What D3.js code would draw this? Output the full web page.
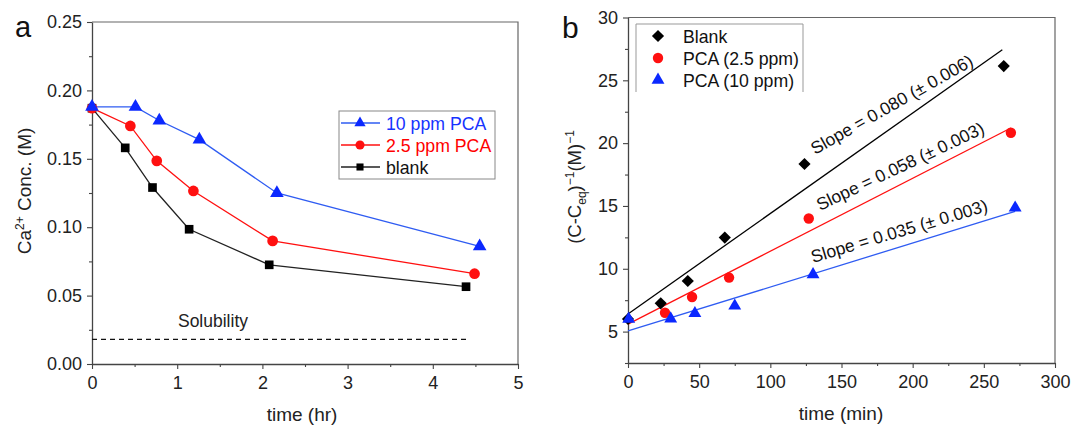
<!DOCTYPE html>
<html>
<head>
<meta charset="utf-8">
<script src="https://cdn.jsdelivr.net/npm/d3@7"></script>
<style>
  html, body { margin: 0; padding: 0; background: #fff; }
  svg { display: block; font-family: "Liberation Sans", Arial, sans-serif; }
</style>
</head>
<body>
<svg id="chart" width="1071" height="425"></svg>
<script>
// ---- Panel a: Ca2+ concentration vs time (hr) ----
const timeHr10 = [0, 0.51, 0.79, 1.26, 2.17, 4.55];
const conc10 = [0.188, 0.188, 0.178, 0.164, 0.125, 0.086];
const timeHr25 = [0, 0.45, 0.76, 1.19, 2.12, 4.49];
const conc25 = [0.187, 0.174, 0.1485, 0.1265, 0.090, 0.066];
const timeHrBlank = [0, 0.39, 0.71, 1.14, 2.08, 4.39];
const concBlank = [0.187, 0.158, 0.129, 0.0985, 0.0725, 0.0565];
const solubility = 0.018;
const solubilityEnd = 4.41;
const xTicksA = [0, 1, 2, 3, 4, 5];
const yTicksA = [0, 0.05, 0.10, 0.15, 0.20, 0.25];
const legendA = ["10 ppm PCA", "2.5 ppm PCA", "blank"];

// ---- Panel b: (C - Ceq)^-1 vs time (min) ----
const timeMinBlank = [0, 23, 42, 68, 124, 264];
const invBlank = [6.0, 7.25, 9.03, 12.48, 18.34, 26.13];
const timeMin25 = [26, 45, 71, 127, 269];
const inv25 = [6.5, 7.75, 9.3, 14.0, 20.83];
const timeMin10 = [0.5, 30, 47, 75, 130, 272];
const inv10 = [6.0, 6.02, 6.45, 7.05, 9.55, 14.85];
const fitSlopes = [0.080, 0.058, 0.035];
const fitErrors = ["0.006", "0.003", "0.003"];
const fitIntercepts = [6.4, 5.6, 5.05];
const fitEnds = [263, 269, 272];
const xTicksB = [0, 50, 100, 150, 200, 250, 300];
const yTicksB = [5, 10, 15, 20, 25, 30];
const legendB = ["Blank", "PCA (2.5 ppm)", "PCA (10 ppm)"];

const BLUE = "#0b28ff", BLUE_LINE = "#2f5cf2", RED = "#ff1010", BLACK = "#000";
const AXIS = "#444";

const svg = d3.select("#chart");

function zipXY(xs, ys) { return xs.map((x, i) => [x, ys[i]]); }

function minorValues(step, lo, hi, majors) {
  const out = [];
  for (let v = lo; v <= hi + 1e-9; v += step) {
    if (!majors.some(m => Math.abs(m - v) < step * 1e-3)) out.push(+v.toFixed(6));
  }
  return out;
}

function drawFrame(g, x, y, xTicks, yTicks, xMinor, yMinor, yFmt) {
  const [x0, x1] = x.range();
  const [y0, y1] = y.range();
  // top and right frame
  g.append("path")
    .attr("d", `M${x0},${y1}H${x1}V${y0}`)
    .attr("fill", "none").attr("stroke", "#666").attr("stroke-width", 1.2);

  g.append("g").attr("transform", `translate(0,${y0})`)
    .call(d3.axisBottom(x).tickValues(xTicks).tickSize(5).tickSizeOuter(0).tickPadding(7).tickFormat(d3.format("d")));
  g.append("g").attr("transform", `translate(0,${y0})`)
    .call(d3.axisBottom(x).tickValues(xMinor).tickSize(3).tickSizeOuter(0).tickFormat(""))
    .call(s => s.select(".domain").remove());
  g.append("g").attr("transform", `translate(${x0},0)`)
    .call(d3.axisLeft(y).tickValues(yTicks).tickSize(5).tickSizeOuter(0).tickPadding(5).tickFormat(yFmt));
  g.append("g").attr("transform", `translate(${x0},0)`)
    .call(d3.axisLeft(y).tickValues(yMinor).tickSize(3).tickSizeOuter(0).tickFormat(""))
    .call(s => s.select(".domain").remove());

  g.selectAll(".domain").attr("stroke", AXIS).attr("stroke-width", 1.3);
  g.selectAll(".tick line").attr("stroke", AXIS).attr("stroke-width", 1.1);
  g.selectAll(".tick text").attr("fill", "#222").style("font-size", "18px")
    .style("font-family", '"Liberation Sans", Arial, sans-serif');
}

const sym = (type, size) => d3.symbol().type(type).size(size)();

// ================= Panel a =================
const ga = svg.append("g");
const xA = d3.scaleLinear().domain([0, 5]).range([92, 518]);
const yA = d3.scaleLinear().domain([0, 0.25]).range([364, 22]);
drawFrame(ga, xA, yA, xTicksA, yTicksA,
  minorValues(0.5, 0, 5, xTicksA), minorValues(0.025, 0, 0.25, yTicksA), d3.format(".2f"));

// solubility line
ga.append("line")
  .attr("x1", xA(0)).attr("x2", xA(solubilityEnd))
  .attr("y1", yA(solubility)).attr("y2", yA(solubility))
  .attr("stroke", "#111").attr("stroke-width", 1.3).attr("stroke-dasharray", "5,4");
ga.append("text").attr("x", xA(1.42)).attr("y", yA(solubility) - 12)
  .attr("text-anchor", "middle").style("font-size", "17.5px").attr("fill", "#222").text("Solubility");

const lineA = d3.line().x(d => xA(d[0])).y(d => yA(d[1]));
const seriesA = [
  { pts: zipXY(timeHrBlank, concBlank), line: "#222", fill: BLACK, shape: d3.symbolSquare, size: 75 },
  { pts: zipXY(timeHr25, conc25), line: RED, fill: RED, shape: d3.symbolCircle, size: 90 },
  { pts: zipXY(timeHr10, conc10), line: BLUE_LINE, fill: BLUE, shape: d3.symbolTriangle, size: 80 }
];
seriesA.forEach(s => {
  ga.append("path").attr("d", lineA(s.pts)).attr("fill", "none")
    .attr("stroke", s.line).attr("stroke-width", 1.3);
});
seriesA.forEach(s => {
  ga.append("g").selectAll("path").data(s.pts).join("path")
    .attr("transform", d => `translate(${xA(d[0])},${yA(d[1])})`)
    .attr("d", sym(s.shape, s.size)).attr("fill", s.fill);
});

// legend a
const legA = ga.append("g");
legA.append("rect").attr("x", 339).attr("y", 111).attr("width", 156).attr("height", 68)
  .attr("fill", "#fff").attr("stroke", "#888").attr("stroke-width", 1);
const legItemsA = [
  { label: legendA[0], line: BLUE_LINE, fill: BLUE, text: "#1633ff", shape: d3.symbolTriangle, size: 55 },
  { label: legendA[1], line: RED, fill: RED, text: "#ff0000", shape: d3.symbolCircle, size: 65 },
  { label: legendA[2], line: "#222", fill: BLACK, text: "#111", shape: d3.symbolSquare, size: 50 }
];
legItemsA.forEach((it, i) => {
  const cy = 123 + i * 22;
  legA.append("line").attr("x1", 341).attr("x2", 380).attr("y1", cy).attr("y2", cy)
    .attr("stroke", it.line).attr("stroke-width", 1.3);
  legA.append("path").attr("transform", `translate(360,${cy})`).attr("d", sym(it.shape, it.size)).attr("fill", it.fill);
  legA.append("text").attr("x", 386).attr("y", cy + 6.5).style("font-size", "17.7px").attr("fill", it.text).text(it.label);
});

// axis titles a
ga.append("text").attr("x", 302).attr("y", 421).attr("text-anchor", "middle")
  .style("font-size", "19px").attr("fill", "#222").text("time (hr)");
const ytA = ga.append("text").attr("transform", "translate(31,191) rotate(-90)")
  .attr("text-anchor", "middle").style("font-size", "19px").attr("fill", "#222");
ytA.append("tspan").text("Ca");
ytA.append("tspan").attr("dy", -7).style("font-size", "12px").text("2+");
ytA.append("tspan").attr("dy", 7).text(" Conc. (M)");

ga.append("text").attr("x", 15).attr("y", 37).style("font-size", "29px").attr("fill", "#111").text("a");

// ================= Panel b =================
const gb = svg.append("g");
const xB = d3.scaleLinear().domain([0, 300]).range([628, 1055]);
const yB = d3.scaleLinear().domain([2.5, 30]).range([363, 17.5]);
drawFrame(gb, xB, yB, xTicksB, yTicksB,
  minorValues(25, 0, 300, xTicksB), minorValues(2.5, 2.5, 30, yTicksB), d3.format("d"));

const fitColors = [BLACK, RED, BLUE_LINE];
fitSlopes.forEach((m, i) => {
  const b = fitIntercepts[i];
  gb.append("line")
    .attr("x1", xB(0)).attr("y1", yB(b))
    .attr("x2", xB(fitEnds[i])).attr("y2", yB(b + m * fitEnds[i]))
    .attr("stroke", fitColors[i]).attr("stroke-width", 1.3);
});

// slope labels
const slopeLabelPos = [[815, 155, -29.5], [820, 211, -25.3], [813, 263, -16.5]];
fitSlopes.forEach((m, i) => {
  const [lx, ly, ang] = slopeLabelPos[i];
  gb.append("text").attr("transform", `translate(${lx},${ly}) rotate(${ang})`)
    .style("font-size", "17.5px").attr("fill", "#111")
    .text(`Slope = ${m.toFixed(3)} (\u00B1 ${fitErrors[i]})`);
});

const seriesB = [
  { pts: zipXY(timeMinBlank, invBlank), fill: BLACK, shape: "diamond", size: 74 },
  { pts: zipXY(timeMin25, inv25), fill: RED, shape: d3.symbolCircle, size: 85 },
  { pts: zipXY(timeMin10, inv10), fill: BLUE, shape: d3.symbolTriangle, size: 72 }
];
function markerB(sel, s, scale) {
  const type = s.shape === "diamond" ? d3.symbolSquare : s.shape;
  sel.attr("d", sym(type, s.size * scale)).attr("fill", s.fill);
}
seriesB.forEach(s => {
  const sel = gb.append("g").selectAll("path").data(s.pts).join("path")
    .attr("transform", d => `translate(${xB(d[0])},${yB(d[1])})` + (s.shape === "diamond" ? " rotate(45)" : ""));
  markerB(sel, s, 1);
});

// legend b (open at the bottom)
gb.append("path").attr("d", "M636,92V24H803V92").attr("fill", "none")
  .attr("stroke", "#999").attr("stroke-width", 1);
seriesB.forEach((s, i) => {
  const cy = 36 + i * 22;
  const p = gb.append("path")
    .attr("transform", `translate(658,${cy})` + (s.shape === "diamond" ? " rotate(45)" : ""));
  markerB(p, s, 1);
  gb.append("text").attr("x", 683).attr("y", cy + 6.5).style("font-size", "17.7px")
    .attr("fill", "#111").text(legendB[i]);
});

// axis titles b
gb.append("text").attr("x", 841).attr("y", 420).attr("text-anchor", "middle")
  .style("font-size", "19px").attr("fill", "#222").text("time (min)");
const ytB = gb.append("text").attr("transform", "translate(581,187) rotate(-90)")
  .attr("text-anchor", "middle").style("font-size", "18.5px").attr("fill", "#222");
ytB.append("tspan").text("(C-C");
ytB.append("tspan").attr("dy", 5).style("font-size", "12px").text("eq");
ytB.append("tspan").attr("dy", -5).text(")");
ytB.append("tspan").attr("dy", -7).style("font-size", "12px").text("\u22121");
ytB.append("tspan").attr("dy", 7).text("(M)");
ytB.append("tspan").attr("dy", -7).style("font-size", "12px").text("\u22121");

gb.append("text").attr("x", 562).attr("y", 38).style("font-size", "30px").attr("fill", "#111").text("b");
</script>
</body>
</html>
